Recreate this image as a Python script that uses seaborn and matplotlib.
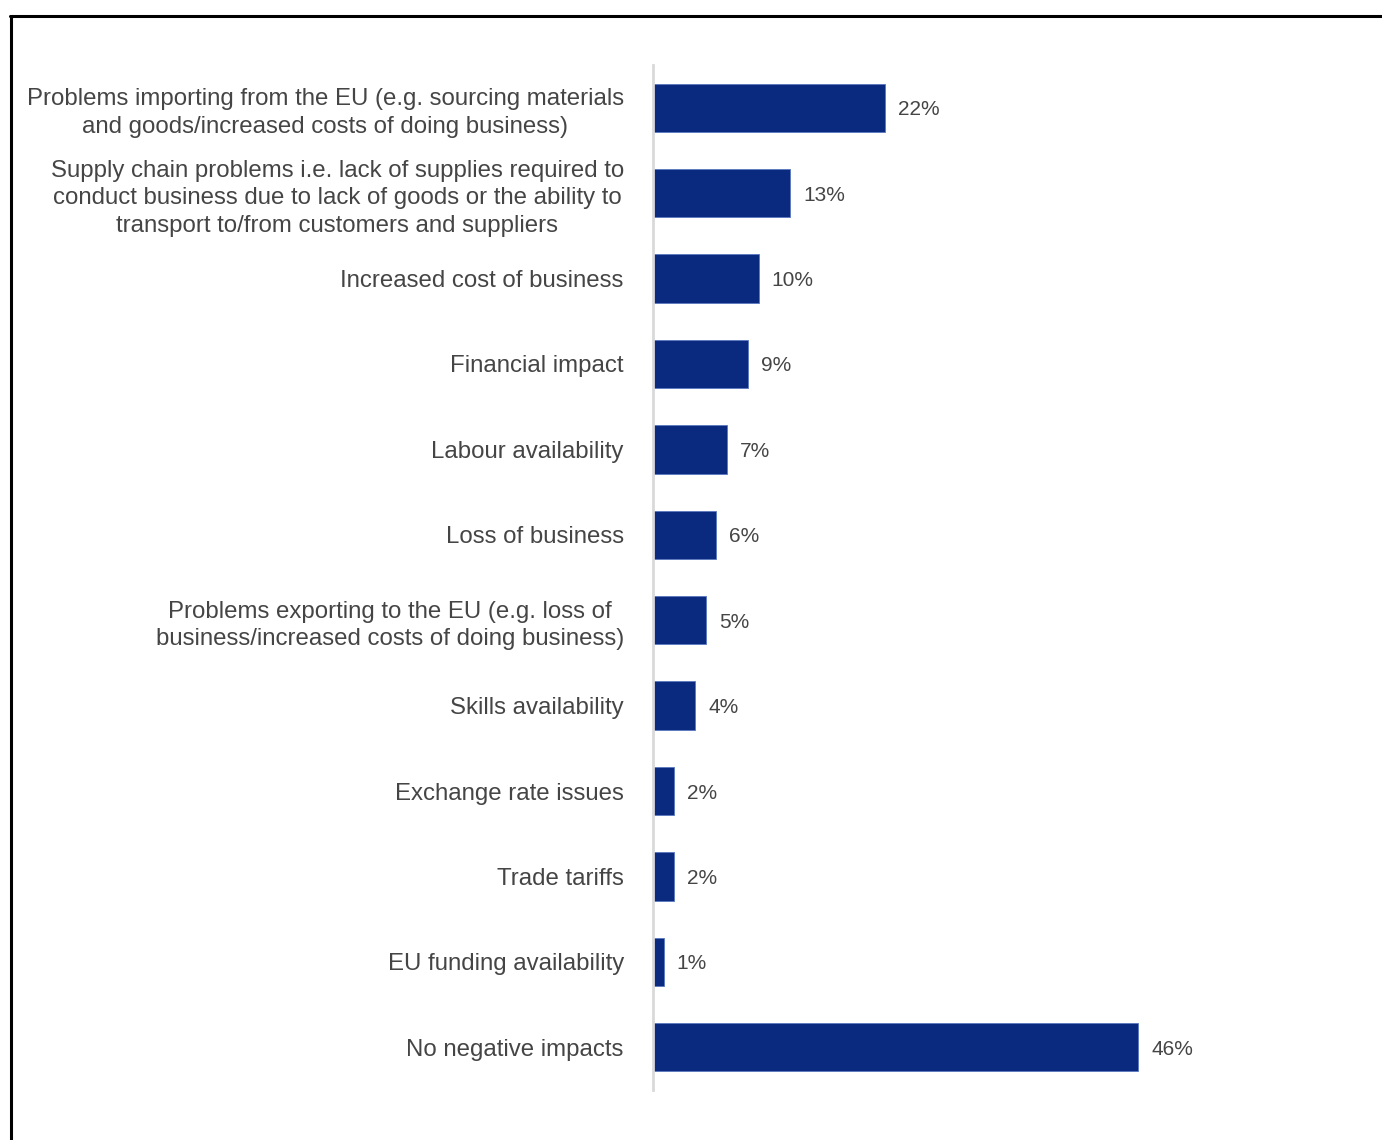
import matplotlib
matplotlib.use("Agg")
import matplotlib.pyplot as plt
import seaborn as sns
import pandas as pd

categories = [
    "Problems importing from the EU (e.g. sourcing materials\nand goods/increased costs of doing business)",
    "Supply chain problems i.e. lack of supplies required to\nconduct business due to lack of goods or the ability to\ntransport to/from customers and suppliers",
    "Increased cost of business",
    "Financial impact",
    "Labour availability",
    "Loss of business",
    "Problems exporting to the EU (e.g. loss of\nbusiness/increased costs of doing business)",
    "Skills availability",
    "Exchange rate issues",
    "Trade tariffs",
    "EU funding availability",
    "No negative impacts",
]
values = [22, 13, 10, 9, 7, 6, 5, 4, 2, 2, 1, 46]

df = pd.DataFrame({"category": categories, "value": values})

sns.set_theme(style="white")
plt.rcParams["font.family"] = ["Liberation Sans", "DejaVu Sans"]

W, H = 1382, 1140
fig = plt.figure(figsize=(W / 100, H / 100), dpi=100)

# axes box in pixel terms: left 653, right 1340, top 65, bottom 1090
left, right, top, bottom = 653, 1340, 65, 1090
ax = fig.add_axes([left / W, 1 - bottom / H, (right - left) / W, (bottom - top) / H])

bar_color = "#0a2a80"
sns.barplot(data=df, x="value", y="category", orient="h", color=bar_color,
            width=0.565, saturation=1, edgecolor="#5a78c0", linewidth=0.6, ax=ax)

px_per_unit = 10.55
ax.set_xlim(0, (right - left) / px_per_unit)
ax.set_ylim(len(categories) - 0.5, -0.5)

for sp in ["top", "right", "bottom"]:
    ax.spines[sp].set_visible(False)
ax.spines["left"].set_color("#d9d9d9")
ax.spines["left"].set_linewidth(2)

ax.set_xticks([])
ax.set_xlabel("")
ax.set_ylabel("")
ax.tick_params(axis="y", length=0, pad=21)
for lbl in ax.get_yticklabels():
    lbl.set_fontsize(17.3)
    lbl.set_color("#454545")
    lbl.set_multialignment("center")
    lbl.set_linespacing(1.32)

for i, v in enumerate(values):
    ax.text(v + 1.25, i, f"{v}%", va="center_baseline", ha="left",
            fontsize=15, color="#454545")

# outer frame lines (top and left edges)
fig.add_artist(plt.Line2D([10 / W, 1.0], [1 - 16 / H, 1 - 16 / H],
                          color="black", linewidth=2.2, transform=fig.transFigure))
fig.add_artist(plt.Line2D([11 / W, 11 / W], [0, 1 - 16 / H],
                          color="black", linewidth=2.2, transform=fig.transFigure))

fig.savefig("out.png", dpi=100, facecolor="white")
